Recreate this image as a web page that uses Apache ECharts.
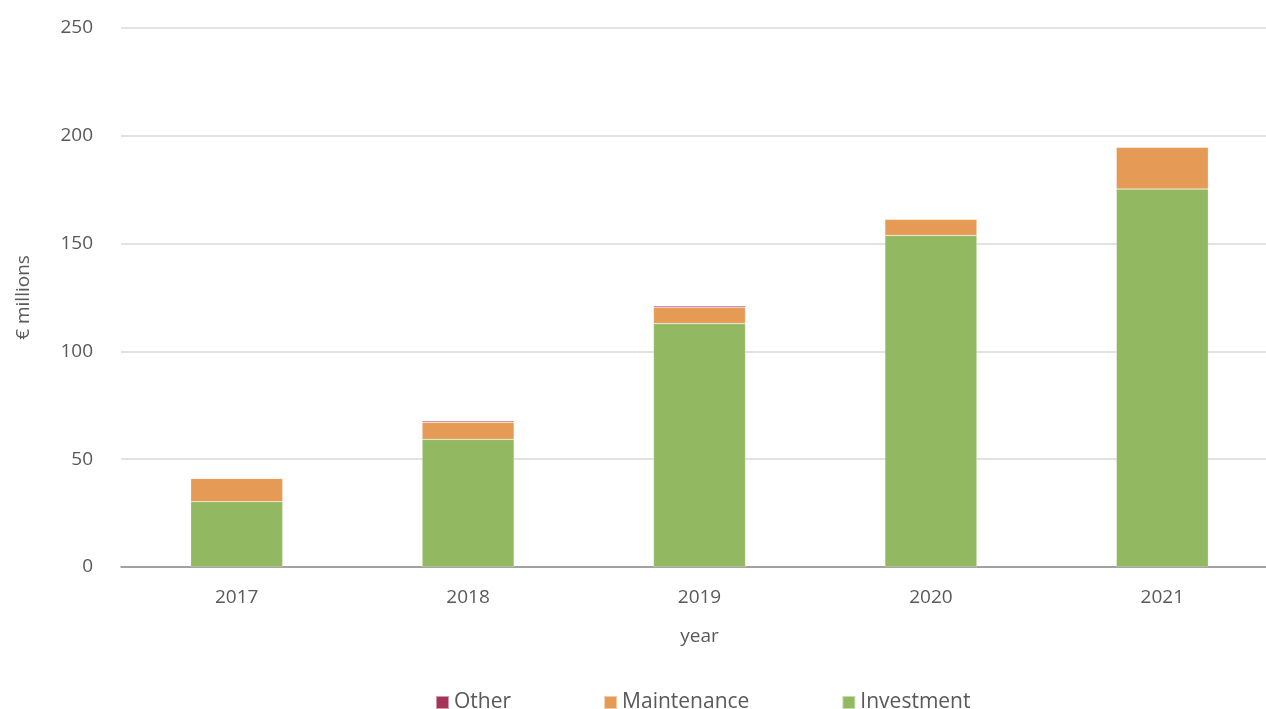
<!DOCTYPE html>
<html>
<head>
<meta charset="utf-8">
<script src="https://cdn.jsdelivr.net/npm/echarts@6/dist/echarts.min.js"></script>
<style>
  html, body { margin: 0; padding: 0; background: #fff; overflow: hidden; }
  /* plot runs a bit past the right edge in the original, so the chart is wider than the window */
  #chart { width: 1278px; height: 709px; }
</style>
</head>
<body>
<div id="chart"></div>
<script>
  // data (€ millions)
  var years = ['2017', '2018', '2019', '2020', '2021'];
  var investment = [30.3, 59.2, 112.9, 153.8, 175.3];
  var maintenance = [10.8, 7.9, 7.5, 7.5, 19.4];
  var other = [0, 0.6, 0.6, 0, 0];
  var yTicks = [0, 50, 100, 150, 200, 250];

  var font = 'Open Sans';
  var myChart = echarts.init(document.getElementById('chart'));

  function barSeries(name, data, color) {
    return {
      name: name,
      type: 'bar',
      stack: 'total',
      barWidth: 92,
      data: data,
      itemStyle: { color: color, borderColor: 'rgba(255,255,255,0.5)', borderWidth: 0.5 }
    };
  }

  var option = {
    animation: false,
    textStyle: { fontFamily: font },
    grid: { left: 121, top: 28, right: 0, bottom: 142 },
    legend: {
      bottom: -9,
      left: 430,
      itemWidth: 13,
      itemHeight: 13,
      itemGap: 92,
      icon: 'rect',
      textStyle: { fontSize: 21, color: '#595959', fontFamily: font },
      data: ['Other', 'Maintenance', 'Investment']
    },
    xAxis: {
      type: 'category',
      data: years,
      name: 'year',
      nameLocation: 'middle',
      nameGap: 60,
      nameTextStyle: { fontSize: 19, color: '#595959' },
      axisLine: { lineStyle: { color: '#8c8c8c', width: 1.5 } },
      axisTick: { show: false },
      axisLabel: { fontSize: 19, color: '#595959', margin: 21 }
    },
    yAxis: {
      type: 'value',
      min: yTicks[0],
      max: yTicks[yTicks.length - 1],
      interval: 50,
      name: '€ millions',
      nameLocation: 'middle',
      nameGap: 88,
      nameRotate: 90,
      nameTextStyle: { fontSize: 19, color: '#595959' },
      axisLine: { show: false },
      axisTick: { show: false },
      axisLabel: { fontSize: 19, color: '#595959', margin: 28 },
      splitLine: { lineStyle: { color: '#d9d9d9', width: 1.5 } }
    },
    series: [
      barSeries('Investment', investment, '#93B862'),
      barSeries('Maintenance', maintenance, '#E59A56'),
      barSeries('Other', other, '#A33556')
    ]
  };

  myChart.setOption(option);
</script>
</body>
</html>
